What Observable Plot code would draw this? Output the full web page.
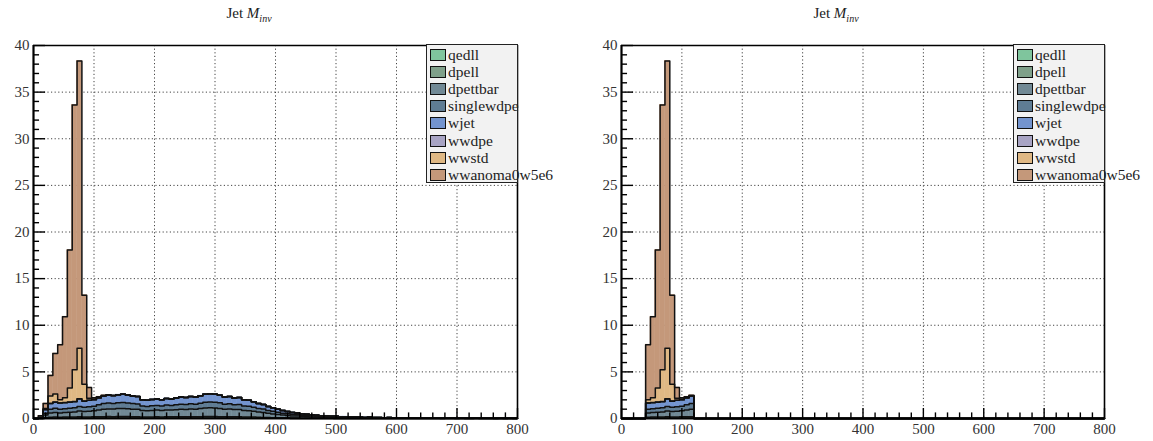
<!DOCTYPE html>
<html><head><meta charset="utf-8">
<script src="https://cdn.jsdelivr.net/npm/d3@7"></script>
<script src="https://cdn.jsdelivr.net/npm/@observablehq/plot@0.6"></script>
<style>
body{margin:0;background:#fff;}
#wrap{position:relative;width:1153px;height:441px;overflow:hidden;font-family:"Liberation Serif",serif;}
.panel{position:absolute;top:0;}
.title{position:absolute;top:5px;font-size:15px;transform:translateX(-50%);white-space:nowrap;color:#222;}
.title sub{font-size:10px;}
.legend{position:absolute;background:#f2f2f2;border:1px solid #222;box-sizing:border-box;padding-top:1px;}
.item{display:flex;align-items:center;height:17.2px;white-space:nowrap;font-size:15.5px;color:#222;}
.sw{width:16px;height:12px;border:1.5px solid #111;margin:0 2px 0 3px;box-sizing:border-box;flex:none;}
</style></head><body><div id="wrap"></div>
<script>
// ---- data (8 GeV bins from 0 to 800) ----
const binWidth = 8;
const xMin = 0, xMax = 800;
const seriesNames = ["qedll","dpell","dpettbar","singlewdpe","wjet","wwdpe","wwstd","wwanoma0w5e6"];
const seriesColors = ["#7fc59d","#7fa08a","#718995","#5f7c94","#7394cf","#a8a4c4","#dfb884","#c4987a"];
const qedll = [
 0,0,0.02,0.03,0.03,0.03,0.03,0.04,0.04,0.05,
 0.04,0.04,0.05,0.05,0.05,0.05,0.05,0.05,0.06,0.05,
 0.05,0.05,0.04,0.04,0.04,0.05,0.04,0.05,0.05,0.05,
 0.05,0.05,0.05,0.05,0.05,0.06,0.06,0.06,0.05,0.05,
 0.05,0.05,0.05,0.04,0.04,0.04,0.03,0.03,0.03,0.02,
 0.02,0.02,0.02,0.01,0.01,0.01,0.01,0.01,0.01,0.01,
 0,0,0,0,0,0,0,0,0,0, 0,0,0,0,0,0,0,0,0,0,
 0,0,0,0,0,0,0,0,0,0, 0,0,0,0,0,0,0,0,0,0];
const dpell = [
 0,0,0.05,0.1,0.12,0.1,0.12,0.12,0.12,0.15,
 0.12,0.13,0.13,0.15,0.15,0.16,0.15,0.16,0.16,0.16,
 0.15,0.15,0.13,0.12,0.13,0.13,0.12,0.13,0.13,0.14,
 0.14,0.14,0.15,0.14,0.15,0.16,0.16,0.16,0.15,0.14,
 0.14,0.13,0.14,0.12,0.12,0.11,0.1,0.09,0.08,0.07,
 0.06,0.05,0.05,0.04,0.04,0.03,0.03,0.02,0.02,0.02,
 0.02,0.02,0.01,0.01,0.01,0.01,0.01,0.01,0.01,0.01,
 0,0,0,0,0,0,0,0,0,0, 0,0,0,0,0,0,0,0,0,0, 0,0,0,0,0,0,0,0,0,0];
const dpettbar = [
 0,0.05,0.3,0.45,0.5,0.45,0.5,0.52,0.55,0.6,
 0.58,0.62,0.64,0.72,0.8,0.82,0.82,0.85,0.86,0.84,
 0.8,0.78,0.68,0.66,0.7,0.72,0.7,0.74,0.72,0.76,
 0.8,0.78,0.82,0.8,0.86,0.9,0.92,0.9,0.88,0.8,
 0.82,0.78,0.78,0.7,0.68,0.63,0.56,0.53,0.45,0.4,
 0.35,0.3,0.26,0.23,0.21,0.18,0.16,0.14,0.12,0.1,
 0.11,0.09,0.09,0.07,0.07,0.05,0.06,0.05,0.04,0.05,
 0.04,0.03,0.03,0.04,0.03,0.03,0.02,0.03,0.02,0.02,
 0.03,0.02,0.02,0.02,0.01,0.02,0.02,0.01,0.02,0.01,
 0.01,0.02,0.01,0.01,0.01,0.01,0.01,0.01,0.01,0.01];
const singlewdpe = [
 0,0.05,0.2,0.4,0.45,0.42,0.4,0.42,0.44,0.5,
 0.46,0.48,0.5,0.55,0.6,0.62,0.6,0.62,0.64,0.6,
 0.6,0.58,0.5,0.48,0.5,0.5,0.48,0.52,0.5,0.52,
 0.55,0.54,0.56,0.55,0.58,0.62,0.64,0.62,0.6,0.55,
 0.56,0.52,0.54,0.48,0.47,0.43,0.38,0.36,0.31,0.28,
 0.24,0.2,0.18,0.16,0.14,0.12,0.1,0.1,0.08,0.07,
 0.07,0.06,0.06,0.05,0.05,0.04,0.03,0.04,0.03,0.04,
 0.02,0.03,0.02,0.02,0.02,0.02,0.02,0.01,0.02,0.01,
 0.01,0.02,0.01,0.01,0.01,0.01,0.01,0.01,0.01,0.01,
 0.01,0.01,0.01,0.01,0.01,0,0.01,0,0.01,0];
const wjet = [
 0,0,0.38,0.62,0.65,0.65,0.65,0.65,0.65,0.8,
 0.65,0.68,0.68,0.73,0.8,0.85,0.83,0.87,0.88,0.85,
 0.8,0.79,0.65,0.65,0.68,0.7,0.66,0.71,0.7,0.73,
 0.76,0.74,0.77,0.76,0.81,0.86,0.87,0.86,0.82,0.76,
 0.78,0.72,0.74,0.66,0.64,0.59,0.53,0.49,0.43,0.38,
 0.33,0.28,0.24,0.21,0.2,0.16,0.15,0.13,0.12,0.1,
 0.1,0.08,0.09,0.07,0.07,0.05,0.05,0.05,0.04,0.05,
 0.04,0.04,0.03,0.04,0.03,0.03,0.02,0.03,0.02,0.02,
 0.02,0.02,0.02,0.01,0.02,0.01,0.02,0.01,0.01,0.01,
 0.02,0.01,0.01,0.01,0.01,0.01,0.01,0.01,0,0.01];
const wwdpe = [
 0,0,0.01,0.02,0.02,0.02,0.02,0.03,0.03,0.03,
 0.03,0.02,0.02,0.02,0.01,0.01,0.01,0.01,0.01,0.01,
 0,0,0,0,0,0,0,0,0,0, 0,0,0,0,0,0,0,0,0,0,
 0,0,0,0,0,0,0,0,0,0, 0,0,0,0,0,0,0,0,0,0,
 0,0,0,0,0,0,0,0,0,0, 0,0,0,0,0,0,0,0,0,0,
 0,0,0,0,0,0,0,0,0,0, 0,0,0,0,0,0,0,0,0,0];
const wwstd = [
 0,0,0.1,0.8,0.85,0.35,0.5,1.5,3.4,5.4,
 1.8,0.2,0.08,0.04,0.02,0.01,0,0,0,0,
 0,0,0,0,0,0,0,0,0,0, 0,0,0,0,0,0,0,0,0,0,
 0,0,0,0,0,0,0,0,0,0, 0,0,0,0,0,0,0,0,0,0,
 0,0,0,0,0,0,0,0,0,0, 0,0,0,0,0,0,0,0,0,0,
 0,0,0,0,0,0,0,0,0,0, 0,0,0,0,0,0,0,0,0,0];
const wwanoma = [
 0,0.2,0.55,2.2,4.35,5.9,8.7,14.8,28.4,30.8,
 9.55,1.15,0.12,0.08,0.05,0.02,0,0,0,0,
 0,0,0,0,0,0,0,0,0,0, 0,0,0,0,0,0,0,0,0,0,
 0,0,0,0,0,0,0,0,0,0, 0,0,0,0,0,0,0,0,0,0,
 0,0,0,0,0,0,0,0,0,0, 0,0,0,0,0,0,0,0,0,0,
 0,0,0,0,0,0,0,0,0,0, 0,0,0,0,0,0,0,0,0,0];
const seriesValues = [qedll, dpell, dpettbar, singlewdpe, wjet, wwdpe, wwstd, wwanoma];
// right panel: mass window applied
const rightWindow = [40, 120];
const xMajor = [0,100,200,300,400,500,600,700,800];
const xMinor = d3.range(0, 801, 20).filter(v => v % 100 !== 0);
const yMajor = [0,5,10,15,20,25,30,35,40];
const yMinor = d3.range(0, 41, 1).filter(v => v % 5 !== 0);
const titleHTML = 'Jet <i>M</i><sub><i>inv</i></sub>';

function build(win) {
  const rects = [], lines = [];
  const nb = seriesValues[0].length;
  const cum = new Array(nb).fill(0);
  seriesValues.forEach((vals, k) => {
    const name = seriesNames[k];
    for (let i = 0; i < nb; i++) {
      const x1 = xMin + i * binWidth, x2 = x1 + binWidth;
      const inWin = !win || (x1 >= win[0] && x2 <= win[1]);
      const v = inWin ? vals[i] : 0;
      const y1 = cum[i], y2 = cum[i] + v;
      if (v > 0) rects.push({x1, x2, y1, y2, name});
      lines.push({x: x1, y: y2, name}, {x: x2, y: y2, name});
      cum[i] = y2;
    }
  });
  return {rects, lines};
}

function panel(win, width, mL, mR) {
  const {rects, lines} = build(win);
  return Plot.plot({
    width, height: 441,
    marginLeft: mL, marginRight: mR, marginTop: 45, marginBottom: 23,
    style: {fontFamily: '"Liberation Serif", serif', fontSize: "15px", color: "#333", background: "#fff"},
    x: {domain: [xMin, xMax], label: null},
    y: {domain: [0, 40], label: null},
    color: {domain: seriesNames, range: seriesColors},
    marks: [
      Plot.ruleX(xMajor.filter(v => v > xMin && v < xMax), {stroke: "#444", strokeWidth: 1, strokeDasharray: "1.2,2.4"}),
      Plot.ruleY(yMajor.filter(v => v > 0 && v < 40), {stroke: "#444", strokeWidth: 1, strokeDasharray: "1.2,2.4"}),
      Plot.rect(rects, {x1: "x1", x2: "x2", y1: "y1", y2: "y2", fill: "name", stroke: "name", strokeWidth: 0.5}),
      Plot.line(lines, {x: "x", y: "y", z: "name", stroke: "#111", strokeWidth: 1.5}),
      Plot.ruleX(xMajor, {y1: 0, y2: 1.07, stroke: "#000", strokeWidth: 1.4}),
      Plot.ruleX(xMinor, {y1: 0, y2: 0.6, stroke: "#000", strokeWidth: 1.4}),
      Plot.ruleY(yMajor, {x1: 0, x2: 20, stroke: "#000", strokeWidth: 1.4}),
      Plot.ruleY(yMinor, {x1: 0, x2: 10, stroke: "#000", strokeWidth: 1.4}),
      Plot.ruleY([40], {stroke: "#000", strokeWidth: 1.6}),
      Plot.ruleX([xMax], {stroke: "#000", strokeWidth: 1.6}),
      Plot.ruleY([0], {stroke: "#000", strokeWidth: 2.2}),
      Plot.ruleX([xMin], {stroke: "#000", strokeWidth: 2.2}),
      Plot.axisX(xMajor, {tickSize: 0, tickPadding: 5, fill: "#333"}),
      Plot.axisY(yMajor, {tickSize: 0, tickPadding: 4, fill: "#333"})
    ]
  });
}

const wrap = document.getElementById("wrap");
const panels = [
  {win: null, left: 0, width: 577, mL: 33, mR: 60, titleX: 249, legendX: 426},
  {win: rightWindow, left: 577, width: 576, mL: 44, mR: 49, titleX: 836, legendX: 1013}
];
panels.forEach(p => {
  const d = document.createElement("div");
  d.className = "panel";
  d.style.left = p.left + "px";
  d.appendChild(panel(p.win, p.width, p.mL, p.mR));
  wrap.appendChild(d);
  const t = document.createElement("div");
  t.className = "title";
  t.style.left = p.titleX + "px";
  t.innerHTML = titleHTML;
  wrap.appendChild(t);
  const lg = document.createElement("div");
  lg.className = "legend";
  lg.style.left = p.legendX + "px";
  lg.style.top = "44px";
  lg.style.width = "92px";
  lg.style.height = "139px";
  seriesNames.forEach((n, k) => {
    const it = document.createElement("div");
    it.className = "item";
    const sw = document.createElement("span");
    sw.className = "sw";
    sw.style.background = seriesColors[k];
    const tx = document.createElement("span");
    tx.textContent = n;
    it.appendChild(sw); it.appendChild(tx);
    lg.appendChild(it);
  });
  wrap.appendChild(lg);
});
</script></body></html>
